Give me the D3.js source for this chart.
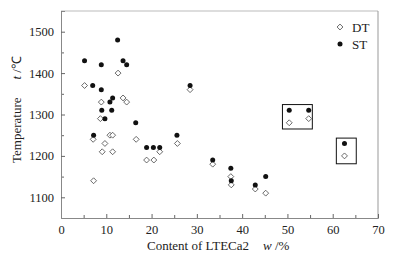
<!DOCTYPE html>
<html>
<head>
<meta charset="utf-8">
<script src="https://cdn.jsdelivr.net/npm/d3@7"></script>
<style>
body{margin:0;background:#fff;}
text{font-family:"Liberation Serif","Times New Roman",serif;fill:#222;}
</style>
</head>
<body>
<div id="chart-area"></div>
<script>
// data
var stX=[5.2,8.9,12.5,13.7,14.5,7.0,8.9,11.4,10.8,9.0,11.2,9.7,16.5,28.5,7.2,18.9,20.4,21.8,25.6,33.5,37.5,37.6,42.9,45.2,62.6,50.4,54.7];
var stY=[1430,1420,1480,1430,1420,1370,1360,1340,1330,1310,1310,1290,1280,1370,1250,1220,1220,1220,1250,1190,1170,1140,1130,1150,1230,1310,1310];
var dtX=[5.2,12.6,8.9,13.7,14.5,8.7,28.5,7.1,7.2,9.1,9.7,10.8,11.4,11.4,16.6,18.9,20.5,21.8,25.7,33.5,37.5,37.6,42.9,45.2,62.6,50.4,54.7];
var dtY=[1370,1400,1330,1340,1330,1290,1360,1240,1140,1210,1230,1250,1250,1210,1240,1190,1190,1210,1230,1180,1150,1130,1120,1110,1200,1280,1290];
// highlight boxes: x0,x1,y0,y1
var boxes=[[48.9,55.5,1265,1324],[60.8,65.2,1181,1243]];
var xTicks=[0,10,20,30,40,50,60,70];
var yTicks=[1100,1200,1300,1400,1500];

var margin={left:61,right:19,top:11,bottom:44};
var width=397-margin.left-margin.right;
var height=262-margin.top-margin.bottom;

var svg=d3.select("#chart-area").append("svg")
    .attr("width",397)
    .attr("height",262);
var g=svg.append("g")
    .attr("transform","translate("+margin.left+","+margin.top+")");

var x=d3.scaleLinear().domain([0,70]).range([0,width]);
var y=d3.scaleLinear().domain([1050,1550]).range([height,0]);

// frame
g.append("line").attr("x1",0).attr("x2",width).attr("y1",0).attr("y2",0)
    .attr("stroke","#bbb").attr("stroke-width",1);
g.append("line").attr("x1",width).attr("x2",width).attr("y1",0).attr("y2",height)
    .attr("stroke","#999").attr("stroke-width",1);

// x axis, ticks pointing inside
var xMinor=g.append("g").attr("transform","translate(0,"+height+")")
    .call(d3.axisTop(x).tickValues(d3.range(5,70,10)).tickSize(3).tickFormat(""));
var xAxis=g.append("g").attr("transform","translate(0,"+height+")")
    .call(d3.axisTop(x).tickValues(xTicks).tickSize(4).tickFormat(d3.format("d")));
xAxis.selectAll("text").attr("y",16).attr("dy",0).attr("font-size","12.5px");

// y axis
var yMinor=g.append("g")
    .call(d3.axisRight(y).tickValues(d3.range(1100,1550,100).map(function(d){return d+50;})).tickSize(3).tickFormat(""));
var yAxis=g.append("g")
    .call(d3.axisRight(y).tickValues(yTicks).tickSize(4).tickFormat(d3.format("d")));
yAxis.selectAll("text").attr("x",-7).attr("text-anchor","end").attr("font-size","12.5px");

[xMinor,xAxis,yMinor,yAxis].forEach(function(a){
    a.attr("font-family",null);
    a.select(".domain").attr("stroke","#888");
    a.selectAll(".tick line").attr("stroke","#666");
    a.selectAll("text").attr("fill","#222");
});
xMinor.select(".domain").remove();
yMinor.select(".domain").remove();

// boxes
g.selectAll(".box").data(boxes).enter().append("rect")
    .attr("class","box")
    .attr("x",function(d){return x(d[0]);})
    .attr("y",function(d){return y(d[3]);})
    .attr("width",function(d){return x(d[1])-x(d[0]);})
    .attr("height",function(d){return y(d[2])-y(d[3]);})
    .attr("fill","none").attr("stroke","#111").attr("stroke-width",1);

var diamond=d3.symbol().type(d3.symbolDiamond2).size(22);

g.selectAll(".dt").data(dtX).enter().append("path")
    .attr("class","dt")
    .attr("d",diamond)
    .attr("transform",function(d,i){return "translate("+x(d)+","+y(dtY[i])+")";})
    .attr("fill","#fff").attr("stroke","#444").attr("stroke-width",0.8);

g.selectAll(".st").data(stX).enter().append("circle")
    .attr("class","st")
    .attr("cx",function(d){return x(d);})
    .attr("cy",function(d,i){return y(stY[i]);})
    .attr("r",2.5)
    .attr("fill","#111");

// legend
svg.append("path").attr("d",diamond).attr("transform","translate(340,27)")
    .attr("fill","#fff").attr("stroke","#444").attr("stroke-width",0.8);
svg.append("text").attr("x",352).attr("y",31.5).attr("font-size","13px").text("DT");
svg.append("circle").attr("cx",340).attr("cy",44).attr("r",2.5).attr("fill","#111");
svg.append("text").attr("x",352).attr("y",48.5).attr("font-size","13px").text("ST");

// axis labels
var xl=svg.append("text").attr("x",147).attr("y",250).attr("font-size","13px");
xl.append("tspan").text("Content of LTECa2");
xl.append("tspan").attr("x",263).attr("font-style","italic").text("w");
xl.append("tspan").text(" /%");

var yl=svg.append("text").attr("transform","translate(21,163) rotate(-90)").attr("font-size","13px");
yl.append("tspan").text("Temperature");
yl.append("tspan").attr("dx",18).attr("font-style","italic").text("t");
yl.append("tspan").text(" /℃");
</script>
</body>
</html>
